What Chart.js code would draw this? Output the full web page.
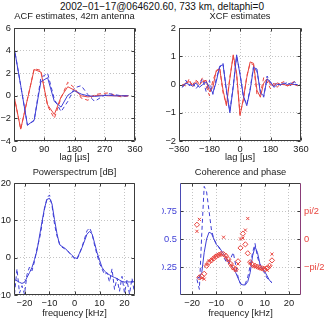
<!DOCTYPE html>
<html>
<head>
<meta charset="utf-8">
<script src="https://cdn.jsdelivr.net/npm/chart.js@4.4.1/dist/chart.umd.min.js"></script>
<style>
body { margin: 0; background: #fff; }
#wrap { position: relative; width: 324px; height: 320px; overflow: hidden; font-family: "Liberation Sans", Arial, sans-serif; }
canvas { position: absolute; }
#suptitle { position: absolute; top: 0; left: 0; width: 324px; text-align: center; font-size: 10px; line-height: 13px; color: #111; }
</style>
</head>
<body>
<div id="wrap">
<div id="suptitle">2002−01−17@064620.60, 733 km, deltaphi=0</div>
<canvas id="acf" width="162" height="168" style="left:0;top:0"></canvas>
<canvas id="xcf" width="162" height="168" style="left:162px;top:0"></canvas>
<canvas id="ps" width="162" height="160" style="left:0;top:160px"></canvas>
<canvas id="coh" width="162" height="160" style="left:162px;top:160px"></canvas>
</div>
<script>
// ACF estimates
const acfLag = [0, 20, 40, 60, 80, 100, 120, 140, 160, 180, 200, 220, 240, 260, 280, 300, 320, 340];
const acfBlue = [4.35, 0.9, -2.6, -2.15, 1.25, 1.6, -0.5, -1.0, 0.05, 0.45, 0.15, 0.0, -0.05, 0.0, 0.05, 0.0, 0.0, 0.0];
const acfRed = [0.0, -2.95, -0.3, 2.33, 2.1, -0.8, -1.65, -0.1, 0.8, 0.5, 0.0, -0.1, 0.0, 0.05, 0.0, 0.0, 0.0, 0.0];
const acfBlueDash = [4.35, 0.9, -2.6, -2.2, 1.6, 2.0, -0.3, -1.4, -0.5, 0.7, 0.9, 0.1, -0.5, -0.1, 0.2, 0.1, 0.0, 0.0];
const acfRedDash = [0.0, -2.95, -0.3, 2.4, 2.25, -0.9, -2.0, -0.2, 1.2, 0.7, -0.2, -0.4, 0.1, 0.2, 0.25, 0.05, -0.1, 0.0];

// XCF estimates
const xcfLag = [-340, -320, -300, -280, -260, -240, -220, -200, -180, -160, -140, -120, -100, -80, -60, -40, -20,
  0, 20, 40, 60, 80, 100, 120, 140, 160, 180, 200, 220, 240, 260, 280, 300, 320, 340];
const xcfRed = [-0.05, 0.05, 0.1, 0.0, 0.1, 0.0, 0.1, 0.15, -0.25, -0.1, 0.5, 0.55, -0.2, -0.75, 0.2, 1.05, 0.4,
  -1.1, -0.5, 0.25, 0.8, 0.75, -0.2, -0.45, 0.05, 0.2, 0.0, -0.05, 0.05, 0.0, 0.0, -0.05, 0.0, 0.0, -0.05];
const xcfBlue = [-0.1, 0.05, 0.0, -0.05, 0.05, -0.1, 0.0, 0.1, -0.1, -0.3, 0.1, 0.65, 0.7, -0.2, -1.0, -0.1, 1.05,
  0.35, -0.4, -0.75, -0.2, 0.6, 0.55, -0.3, -0.4, 0.2, 0.1, -0.1, 0.0, 0.0, 0.05, 0.0, 0.05, 0.0, 0.0];
const xcfRedDash = [0.0, -0.05, 0.2, -0.1, 0.15, 0.05, 0.25, -0.05, -0.4, 0.15, 0.45, 0.6, -0.3, -0.7, 0.25, 1.0, 0.35,
  -1.05, -0.55, 0.3, 0.75, 0.7, -0.35, -0.35, 0.25, 0.1, -0.15, 0.05, -0.1, 0.05, 0.1, -0.05, 0.05, 0.1, 0.0];
const xcfBlueDash = [-0.1, 0.15, -0.05, 0.1, -0.15, 0.0, 0.2, -0.25, 0.15, -0.35, 0.2, 0.6, 0.75, -0.25, -0.95, -0.05, 1.0,
  0.4, -0.45, -0.7, -0.15, 0.65, 0.45, -0.2, -0.45, 0.3, 0.05, -0.05, 0.1, -0.05, 0.0, 0.1, -0.05, 0.1, 0.0];

// Powerspectrum [dB]
const psFreq = [-24, -23, -22, -21, -20, -19, -18, -17, -16, -15, -14, -13, -12, -11, -10, -9, -8, -7, -6, -5, -4, -3, -2, -1,
  0, 1, 2, 3, 4, 5, 6, 7, 8, 9, 10, 11, 12, 13, 14, 15, 16, 17, 18, 19, 20, 21, 22, 23, 24];
const psSolid = [-5.9, -6.2, -6.6, -6.9, -6.6, -5.3, -4.0, -2.6, -0.5, 1.9, 5.8, 9.6, 13.3, 15.6, 15.9, 14.4, 10.2, 6.4, 3.5, 3.0, 2.6, 2.0, 1.3, 0.6,
  0.0, -0.2, 1.2, 2.7, 4.5, 6.3, 7.0, 6.4, 4.0, 1.4, -0.6, -2.6, -3.6, -4.2, -4.6, -5.0, -5.3, -5.6, -6.0, -6.4, -6.5, -6.5, -6.5, -6.5, -6.4];
const psDash = [-9.8, -3.0, -9.5, -7.5, -9.8, -4.5, -2.5, -3.5, -1.0, 2.5, 5.0, 8.8, 13.0, 16.0, 16.8, 14.0, 9.0, 5.8, 3.8, 2.8, 2.4, 2.0, 1.2, 0.4,
  -0.3, -0.5, 1.0, 2.9, 5.0, 7.2, 8.0, 6.5, 3.4, 0.8, -1.5, -3.0, -4.5, -4.0, -6.5, -3.0, -8.5, -5.5, -9.0, -5.0, -9.5, -6.0, -9.8, -5.5, -9.5];

// Coherence and phase
const cohFreq = [-18, -17, -16, -15, -14, -13, -12, -11, -10, -9, -8, -7, -6, -5, -4, -3, -2, -1,
  0, 1, 2, 3, 4, 5, 6, 7, 8, 9, 10, 11, 12, 13];
const cohSolid = [0.15, 0.16, 0.20, 0.38, 0.50, 0.56, 0.55, 0.50, 0.45, 0.43, 0.40, 0.37, 0.33, 0.29, 0.27, 0.24, 0.20, 0.15,
  0.10, 0.09, 0.09, 0.12, 0.20, 0.35, 0.43, 0.38, 0.28, 0.24, 0.21, 0.17, 0.13, 0.11];
const cohDash = [0.14, 0.05, 0.55, 0.97, 0.92, 0.75, 0.58, 0.50, 0.46, 0.43, 0.38, 0.34, 0.30, 0.28, 0.33, 0.38, 0.27, 0.16,
  0.10, 0.09, 0.10, 0.16, 0.26, 0.38, 0.46, 0.34, 0.27, 0.24, 0.19, 0.15, 0.13, 0.11];
const phaseDiamond = [0.8, -2.15, -2.1, -1.95, -1.5, -1.3, -1.2, -1.08, -0.97, -0.9, -0.83, -0.85, -0.95, -1.15, -1.4, -1.6, -1.7, -1.25,
  -0.5, 0.3, -0.3, -0.8, -1.3, -1.45, -1.5, -1.55, -1.6, -1.65, -1.7, -1.65, -1.5, -1.2];
const phaseCross = [0.43, 1.1, -2.2, -2.25, -1.45, -1.25, -1.15, -1.05, -0.95, -0.88, -0.82, 0.1, -1.0, -1.2, -1.45, -1.65, -1.75, -1.4,
  0.0, 0.05, 0.5, 1.15, -1.35, -1.5, -1.55, -1.6, -1.65, -1.7, -1.6, -1.75, -1.55, -0.85];

const BLUE = '#3f3fd6';
const RED = '#e8453f';
const FONT = 'Liberation Sans';
const FS = 9.3;

Chart.defaults.font.family = FONT;
Chart.defaults.font.size = FS;
Chart.defaults.color = '#1a1a1a';

function minus(v) {
  return (v < 0 ? '\u2212' : '') + Math.abs(v);
}

function pts(xs, ys) {
  return xs.map((x, i) => ({ x: x, y: ys[i] }));
}

function line(xs, ys, color, dashed) {
  return {
    data: pts(xs, ys),
    showLine: true,
    borderColor: color,
    borderWidth: 1,
    borderDash: dashed ? [4, 3] : [],
    pointRadius: 0,
    fill: false
  };
}

// box around the plot, inward tick marks and the subplot title
const frame = {
  id: 'frame',
  afterDraw(chart, args, o) {
    const { ctx, chartArea: a } = chart;
    const L = Math.round(a.left) + 0.5, R = Math.round(a.right) - 0.5;
    const T = Math.round(a.top) + 0.5, B = Math.round(a.bottom) - 0.5;
    ctx.save();
    ctx.lineWidth = 1;
    ctx.strokeStyle = '#3c3c3c';
    ctx.beginPath();
    const xs = chart.scales.x;
    xs.ticks.forEach(t => {
      const p = Math.round(xs.getPixelForValue(t.value)) + 0.5;
      ctx.moveTo(p, B); ctx.lineTo(p, B - 3);
      ctx.moveTo(p, T); ctx.lineTo(p, T + 3);
    });
    const ys = chart.scales.y;
    ys.ticks.forEach(t => {
      const p = Math.round(ys.getPixelForValue(t.value)) + 0.5;
      ctx.moveTo(L, p); ctx.lineTo(L + 3, p);
      if (!chart.scales.y2) { ctx.moveTo(R, p); ctx.lineTo(R - 3, p); }
    });
    if (chart.scales.y2) {
      const y2 = chart.scales.y2;
      y2.ticks.forEach(t => {
        const p = Math.round(y2.getPixelForValue(t.value)) + 0.5;
        ctx.moveTo(R, p); ctx.lineTo(R - 3, p);
      });
    }
    ctx.stroke();
    ctx.beginPath();
    ctx.moveTo(L, B); ctx.lineTo(R, B);
    ctx.moveTo(L, T); ctx.lineTo(R, T);
    ctx.stroke();
    ctx.strokeStyle = o.leftColor || '#3c3c3c';
    ctx.beginPath(); ctx.moveTo(L, T); ctx.lineTo(L, B); ctx.stroke();
    ctx.strokeStyle = o.rightColor || '#3c3c3c';
    ctx.beginPath(); ctx.moveTo(R, T); ctx.lineTo(R, B); ctx.stroke();
    ctx.fillStyle = '#1a1a1a';
    ctx.font = FS + 'px "' + FONT + '"';
    ctx.textAlign = 'center';
    ctx.textBaseline = 'middle';
    ctx.fillText(o.title, (a.left + a.right) / 2, o.titleY);
    ctx.restore();
  }
};

function xAxis(min, max, ticks, h, title, tpad) {
  return {
    type: 'linear', min: min, max: max,
    afterBuildTicks: s => { s.ticks = ticks.map(v => ({ value: v })); },
    afterFit: s => { s.height = h; },
    ticks: { callback: minus, padding: 2.5, maxRotation: 0, autoSkip: false },
    grid: { color: '#c4c4c4', drawTicks: false },
    border: { display: false, dash: [1, 2] },
    title: { display: true, text: title, padding: { top: 0, bottom: tpad } }
  };
}

function yAxis(min, max, ticks, w, color, fmt) {
  return {
    type: 'linear', min: min, max: max,
    afterBuildTicks: s => { s.ticks = ticks.map(v => ({ value: v })); },
    afterFit: s => { s.width = w; },
    ticks: { callback: fmt || minus, padding: 3, color: color || '#1a1a1a' },
    grid: { color: '#c4c4c4', drawTicks: false },
    border: { display: false, dash: [1, 2] }
  };
}

function makeChart(id, datasets, scales, padding, frameOpts) {
  return new Chart(document.getElementById(id), {
    type: 'scatter',
    data: { datasets: datasets },
    options: {
      responsive: false,
      animation: false,
      devicePixelRatio: 1,
      events: [],
      layout: { padding: padding },
      plugins: { legend: { display: false }, tooltip: { enabled: false }, frame: frameOpts },
      scales: scales
    },
    plugins: [frame]
  });
}

makeChart('acf', [
  line(acfLag, acfBlue, BLUE, false),
  line(acfLag, acfRed, RED, false),
  line(acfLag, acfBlueDash, BLUE, true),
  line(acfLag, acfRedDash, RED, true)
], {
  x: xAxis(0, 360, [0, 90, 180, 270, 360], 27, 'lag [µs]', 5),
  y: yAxis(-4, 6, [-4, -2, 0, 2, 4, 6], 14)
}, { top: 28, right: 27, left: 0, bottom: 0 }, { title: 'ACF estimates, 42m antenna', titleY: 16.5 });

makeChart('xcf', [
  line(xcfLag, xcfBlue, BLUE, false),
  line(xcfLag, xcfRed, RED, false),
  line(xcfLag, xcfBlueDash, BLUE, true),
  line(xcfLag, xcfRedDash, RED, true)
], {
  x: xAxis(-360, 360, [-360, -180, 0, 180, 360], 27, 'lag [µs]', 5),
  y: yAxis(-2, 2, [-2, -1, 0, 1, 2], 17)
}, { top: 28, right: 23, left: 0, bottom: 0 }, { title: 'XCF estimates', titleY: 16.5 });

makeChart('ps', [
  line(psFreq, psSolid, BLUE, false),
  line(psFreq, psDash, BLUE, true)
], {
  x: xAxis(-24.2, 24.2, [-20, -10, 0, 10, 20], 25, 'frequency [kHz]', 0.5),
  y: yAxis(-10, 20, [-10, 0, 10, 20], 14)
}, { top: 23, right: 27, left: 0, bottom: 0 }, { title: 'Powerspectrum [dB]', titleY: 12 });

const phaseLabel = v => Math.abs(v) < 1e-6 ? '0' : (v < 0 ? '\u2212pi/2' : 'pi/2');
const cohY2 = yAxis(-Math.PI, Math.PI, [-Math.PI / 2, 0, Math.PI / 2], 23, RED, phaseLabel);
cohY2.position = 'right';
cohY2.grid = { display: false, drawTicks: false };

makeChart('coh', [
  { data: pts(cohFreq, phaseDiamond), yAxisID: 'y2', pointStyle: 'rectRot', pointRadius: 2.6,
    borderColor: RED, backgroundColor: 'rgba(0,0,0,0)', borderWidth: 1, showLine: false },
  { data: pts(cohFreq, phaseCross), yAxisID: 'y2', pointStyle: 'crossRot', pointRadius: 2.2,
    borderColor: RED, backgroundColor: RED, borderWidth: 1, showLine: false },
  line(cohFreq, cohSolid, BLUE, false),
  line(cohFreq, cohDash, BLUE, true)
], {
  x: xAxis(-25, 25, [-20, -10, 0, 10, 20], 25, 'frequency [kHz]', 0.5),
  y: yAxis(0, 1, [0.25, 0.5, 0.75], 18, BLUE, v => String(v)),
  y2: cohY2
}, { top: 23, right: 0, left: 0, bottom: 0 },
  { title: 'Coherence and phase', titleY: 12, leftColor: '#4a4ab4', rightColor: '#8a3c78' });
</script>
</body>
</html>
